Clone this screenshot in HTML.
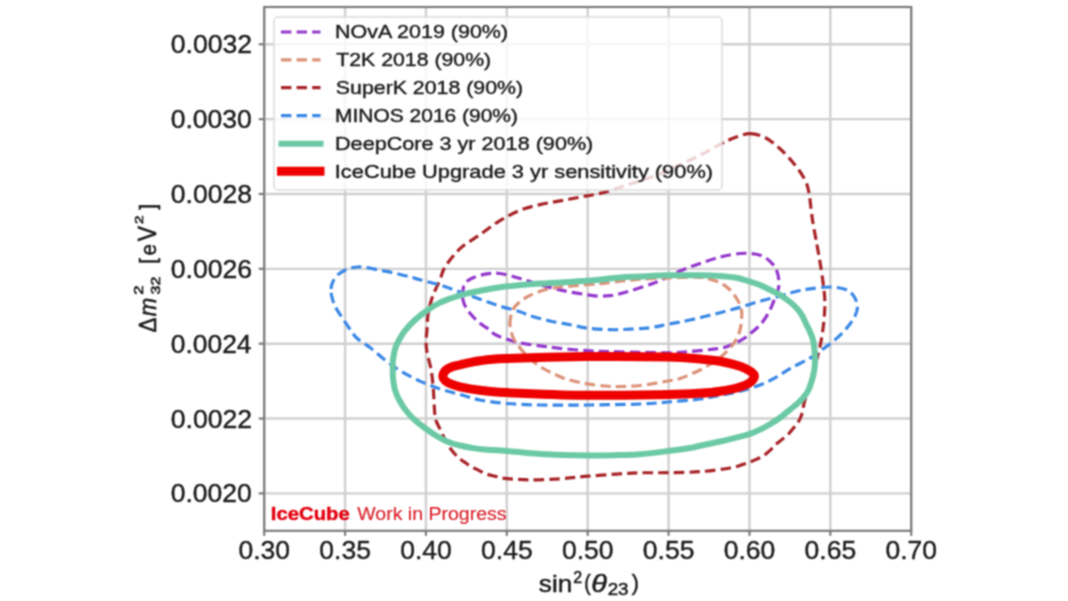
<!DOCTYPE html>
<html><head><meta charset="utf-8"><title>IceCube Upgrade sensitivity</title>
<style>
html,body{margin:0;padding:0;background:#fff;}
body{width:1068px;height:601px;overflow:hidden;}
svg{display:block;will-change:transform;}
text{font-family:"Liberation Sans",sans-serif;}
</style></head><body>
<svg width="1068" height="601" viewBox="0 0 1068 601">
<defs><filter id="bl" x="0" y="0" width="1068" height="601" filterUnits="userSpaceOnUse" color-interpolation-filters="sRGB"><feConvolveMatrix order="3" kernelMatrix="1 2 1 2 4 2 1 2 1" divisor="16" edgeMode="duplicate"/></filter></defs>
<g filter="url(#bl)">
<rect x="0" y="0" width="1068" height="601" fill="#fff"/>
<g stroke="#d0d0d0" stroke-width="2.4"><line x1="264.20" y1="7.0" x2="264.20" y2="530.8"/><line x1="345.07" y1="7.0" x2="345.07" y2="530.8"/><line x1="425.95" y1="7.0" x2="425.95" y2="530.8"/><line x1="506.82" y1="7.0" x2="506.82" y2="530.8"/><line x1="587.70" y1="7.0" x2="587.70" y2="530.8"/><line x1="668.58" y1="7.0" x2="668.58" y2="530.8"/><line x1="749.45" y1="7.0" x2="749.45" y2="530.8"/><line x1="830.33" y1="7.0" x2="830.33" y2="530.8"/><line x1="911.20" y1="7.0" x2="911.20" y2="530.8"/><line x1="264.2" y1="493.40" x2="911.2" y2="493.40"/><line x1="264.2" y1="418.54" x2="911.2" y2="418.54"/><line x1="264.2" y1="343.68" x2="911.2" y2="343.68"/><line x1="264.2" y1="268.83" x2="911.2" y2="268.83"/><line x1="264.2" y1="193.97" x2="911.2" y2="193.97"/><line x1="264.2" y1="119.11" x2="911.2" y2="119.11"/><line x1="264.2" y1="44.25" x2="911.2" y2="44.25"/></g>
<g fill="none" stroke-linejoin="round">
<path d="M462.5,296.0C462.3,293.8 462.6,292.1 463.0,290.0C463.4,287.9 463.5,285.2 465.0,283.3C466.5,281.4 468.7,279.8 472.0,278.3C475.3,276.8 480.3,275.0 485.0,274.2C489.7,273.4 494.2,272.8 500.0,273.5C505.8,274.2 513.3,276.6 520.0,278.5C526.7,280.4 534.2,283.0 540.0,284.7C545.8,286.4 550.0,287.5 555.0,288.7C560.0,289.9 564.6,291.0 570.0,292.0C575.4,293.0 582.6,294.1 587.6,294.8C592.6,295.5 596.3,296.1 600.0,296.2C603.7,296.3 606.7,296.1 610.0,295.7C613.3,295.3 616.7,294.5 620.0,293.7C623.3,292.9 625.0,292.5 630.0,291.0C635.0,289.5 645.0,286.2 650.0,284.5C655.0,282.8 655.0,282.9 660.0,280.6C665.0,278.4 673.3,273.9 680.0,271.0C686.7,268.1 693.3,265.8 700.0,263.5C706.7,261.2 713.3,258.7 720.0,257.0C726.7,255.3 734.2,254.0 740.0,253.5C745.8,253.0 750.8,253.3 755.0,254.0C759.2,254.7 762.0,255.8 765.0,257.5C768.0,259.2 770.9,261.9 773.0,264.5C775.1,267.1 776.5,269.6 777.5,273.0C778.5,276.4 779.2,281.3 779.0,285.0C778.8,288.7 777.3,292.4 776.5,295.0C775.7,297.6 775.1,298.0 774.0,300.5C772.9,303.0 771.7,306.8 770.0,310.0C768.3,313.2 766.0,317.2 764.0,320.0C762.0,322.8 760.2,324.8 758.0,327.0C755.8,329.2 753.2,331.2 751.0,333.0C748.8,334.8 747.2,336.3 745.0,337.8C742.8,339.3 740.3,340.8 738.0,342.0C735.7,343.2 733.5,344.0 731.0,345.0C728.5,346.0 726.5,347.1 723.0,347.8C719.5,348.6 715.5,348.9 710.0,349.5C704.5,350.1 697.0,350.9 690.0,351.5C683.0,352.1 676.3,352.7 668.0,352.8C659.7,352.9 649.7,352.5 640.0,352.3C630.3,352.1 618.8,351.9 610.0,351.6C601.2,351.3 595.8,351.2 587.5,350.7C579.2,350.2 567.9,349.2 560.0,348.4C552.1,347.6 546.7,346.7 540.0,345.8C533.3,344.9 525.3,344.1 520.0,343.0C514.7,341.9 512.2,340.9 508.0,339.5C503.8,338.1 498.0,336.1 495.0,334.5C492.0,332.9 492.5,331.9 490.0,330.0C487.5,328.1 483.3,326.1 480.0,323.3C476.7,320.5 472.7,316.6 470.0,313.3C467.3,310.0 465.2,306.2 464.0,303.3C462.8,300.4 462.7,298.2 462.5,296.0Z" stroke="#9438cc" stroke-width="3.2" stroke-dasharray="10.4 5.2"/>
<path d="M510.0,325.0C509.6,321.8 510.0,320.6 510.5,318.0C511.0,315.4 511.4,312.1 513.0,309.4C514.6,306.7 517.2,303.9 520.0,301.6C522.8,299.3 525.8,297.4 530.0,295.4C534.2,293.4 540.0,291.2 545.0,289.8C550.0,288.4 554.2,287.8 560.0,287.0C565.8,286.2 573.3,285.9 580.0,285.3C586.7,284.7 594.2,284.2 600.0,283.6C605.8,283.0 608.3,282.6 615.0,281.9C621.7,281.2 630.8,279.9 640.0,279.2C649.2,278.5 660.0,278.1 670.0,277.8C680.0,277.5 693.3,277.1 700.0,277.3C706.7,277.5 706.7,278.3 710.0,279.2C713.3,280.1 716.8,280.9 720.0,282.5C723.2,284.1 726.2,286.2 729.0,289.0C731.8,291.8 734.9,295.5 737.0,299.0C739.1,302.5 740.8,306.5 741.5,310.0C742.2,313.5 741.8,316.7 741.5,320.0C741.2,323.3 740.9,326.7 740.0,330.0C739.1,333.3 737.7,337.0 736.0,340.0C734.3,343.0 732.3,345.3 730.0,348.0C727.7,350.7 724.8,353.6 722.0,356.0C719.2,358.4 716.7,360.2 713.0,362.5C709.3,364.8 705.5,367.3 700.0,370.0C694.5,372.7 685.3,376.7 680.0,378.5C674.7,380.3 674.7,379.8 668.0,381.0C661.3,382.2 648.0,384.6 640.0,385.5C632.0,386.4 625.8,386.4 620.0,386.5C614.2,386.6 610.4,386.4 605.0,386.0C599.6,385.6 592.5,384.7 587.5,383.9C582.5,383.1 578.6,382.2 574.7,381.3C570.8,380.4 567.7,379.6 564.2,378.4C560.7,377.1 557.3,375.4 553.8,373.8C550.3,372.2 546.6,370.5 543.3,368.5C540.0,366.5 537.0,364.5 534.0,362.0C531.0,359.5 527.5,356.3 525.0,353.8C522.5,351.2 521.0,349.2 519.0,346.5C517.0,343.8 514.5,341.1 513.0,337.5C511.5,333.9 510.4,328.2 510.0,325.0Z" stroke="#dc9279" stroke-width="3.2" stroke-dasharray="10.4 5.2"/>
<path d="M750.0,133.6C755.0,133.6 760.0,135.0 765.0,137.5C770.0,140.0 775.0,144.2 780.0,148.8C785.0,153.3 790.8,159.8 795.0,165.0C799.2,170.2 802.7,175.3 805.0,180.0C807.3,184.7 807.8,186.3 809.0,193.0C810.2,199.7 811.2,211.3 812.5,220.0C813.8,228.7 815.8,238.0 817.0,245.0C818.2,252.0 819.0,255.8 820.0,262.0C821.0,268.2 822.2,275.7 823.0,282.0C823.8,288.3 824.6,293.7 824.8,300.0C825.0,306.3 824.6,313.3 824.0,320.0C823.4,326.7 822.5,333.3 821.3,340.0C820.1,346.7 818.4,353.3 816.6,360.0C814.9,366.7 812.8,373.1 810.8,380.0C808.8,386.9 805.9,396.3 804.6,401.2C803.3,406.1 803.5,406.8 802.9,409.3C802.3,411.8 801.9,414.2 801.1,416.3C800.3,418.4 799.5,420.2 798.2,422.1C797.0,424.0 795.4,425.8 793.6,427.9C791.9,430.0 789.7,432.9 787.7,434.9C785.8,436.8 783.8,438.1 781.9,439.6C780.0,441.2 778.0,442.4 776.1,444.2C774.2,445.9 772.4,448.2 770.3,450.1C768.2,452.1 765.6,454.3 763.3,455.9C761.0,457.4 758.6,458.3 756.3,459.4C754.0,460.5 751.6,461.4 749.3,462.3C747.0,463.2 745.5,463.7 742.3,464.6C739.1,465.6 737.0,466.8 730.0,468.0C723.0,469.2 710.3,470.9 700.0,471.7C689.7,472.5 678.0,472.5 668.0,472.7C658.0,472.9 648.0,472.6 640.0,472.8C632.0,473.0 628.7,473.2 620.0,473.8C611.3,474.4 598.0,475.4 588.0,476.2C578.0,477.0 569.7,478.2 560.0,478.8C550.3,479.4 538.8,479.8 530.0,479.8C521.2,479.8 512.1,479.0 507.0,478.6C501.9,478.2 501.7,477.9 499.3,477.4C496.9,476.9 495.2,476.3 492.8,475.7C490.4,475.1 487.6,474.5 485.2,473.6C482.8,472.7 481.0,471.5 478.7,470.3C476.4,469.1 473.5,467.9 471.1,466.5C468.8,465.1 466.7,463.6 464.6,462.2C462.5,460.8 460.7,459.7 458.7,457.9C456.7,456.1 454.5,453.6 452.7,451.4C450.9,449.2 449.3,447.2 447.9,444.9C446.4,442.6 445.2,440.0 444.0,437.5C442.8,435.0 441.9,432.9 440.5,430.0C439.1,427.1 436.8,423.3 435.8,420.0C434.8,416.7 434.9,415.0 434.5,410.0C434.1,405.0 433.9,396.7 433.4,390.0C432.8,383.3 432.2,375.9 431.2,370.0C430.2,364.1 428.4,359.2 427.5,354.6C426.6,350.0 426.1,346.8 426.0,342.6C425.9,338.4 426.7,334.0 427.0,329.3C427.3,324.6 427.3,319.3 428.0,314.6C428.7,309.9 429.8,305.3 431.0,301.3C432.2,297.3 433.5,294.2 435.0,290.7C436.5,287.1 438.3,283.9 440.0,280.0C441.7,276.1 441.7,272.2 445.0,267.0C448.3,261.8 454.2,254.1 460.0,248.7C465.8,243.3 473.3,239.3 480.0,234.6C486.7,229.9 493.3,224.6 500.0,220.6C506.7,216.6 513.3,213.0 520.0,210.3C526.7,207.6 533.3,206.2 540.0,204.6C546.7,203.0 553.3,202.1 560.0,200.9C566.7,199.7 573.3,198.4 580.0,197.2C586.7,195.9 593.3,195.0 600.0,193.4C606.7,191.8 613.3,189.5 620.0,187.4C626.7,185.3 633.3,182.9 640.0,180.7C646.7,178.4 653.3,176.6 660.0,173.9C666.7,171.2 673.3,167.8 680.0,164.7C686.7,161.6 693.3,158.8 700.0,155.4C706.7,152.0 714.2,147.4 720.0,144.4C725.8,141.4 730.0,139.3 735.0,137.5C740.0,135.7 745.0,133.6 750.0,133.6Z" stroke="#a82428" stroke-width="3.2" stroke-dasharray="10.4 5.2"/>
<path d="M331.0,289.0C331.2,286.7 331.8,283.8 333.0,281.4C334.2,279.0 336.0,276.6 338.0,274.7C340.0,272.8 342.7,271.3 345.0,270.2C347.3,269.1 349.8,268.3 352.0,267.8C354.2,267.3 355.8,267.1 358.0,267.0C360.2,266.9 361.3,266.9 365.0,267.4C368.7,267.9 375.0,269.2 380.0,270.2C385.0,271.2 390.0,272.1 395.0,273.2C400.0,274.3 405.8,275.8 410.0,276.9C414.2,278.0 415.0,278.4 420.0,279.8C425.0,281.2 433.3,283.0 440.0,285.0C446.7,287.0 453.3,289.6 460.0,292.0C466.7,294.4 473.3,296.8 480.0,299.2C486.7,301.6 493.3,304.1 500.0,306.2C506.7,308.3 515.0,310.1 520.0,311.7C525.0,313.3 525.0,314.1 530.0,315.7C535.0,317.2 543.3,319.5 550.0,321.0C556.7,322.5 563.7,323.5 570.0,324.7C576.3,325.9 581.0,327.4 587.7,328.2C594.4,329.0 603.0,329.5 610.0,329.7C617.0,329.9 623.3,329.5 630.0,329.2C636.7,328.9 643.7,328.5 650.0,327.7C656.3,326.9 661.3,325.5 668.0,324.2C674.7,322.9 681.3,321.9 690.0,320.0C698.7,318.1 711.7,314.8 720.0,312.7C728.3,310.6 733.3,309.3 740.0,307.4C746.7,305.5 753.3,303.1 760.0,301.2C766.7,299.4 774.2,297.6 780.0,296.0C785.8,294.4 790.0,292.9 795.0,291.7C800.0,290.5 804.2,289.7 810.0,288.9C815.8,288.1 824.2,286.9 830.0,287.0C835.8,287.1 841.2,288.0 845.0,289.3C848.8,290.6 850.9,292.3 853.0,295.0C855.1,297.7 857.2,302.1 857.5,305.6C857.8,309.1 856.6,312.6 855.0,316.1C853.4,319.6 850.8,323.1 848.0,326.6C845.2,330.1 841.8,333.6 838.0,337.1C834.2,340.6 829.7,344.1 825.0,347.6C820.3,351.1 815.8,354.6 810.0,358.1C804.2,361.6 795.8,365.3 790.0,368.6C784.2,371.9 780.0,375.2 775.0,377.9C770.0,380.6 765.8,382.8 760.0,385.0C754.2,387.2 746.7,389.4 740.0,391.2C733.3,392.9 726.7,394.2 720.0,395.5C713.3,396.8 708.7,397.9 700.0,399.0C691.3,400.1 678.0,401.2 668.0,402.0C658.0,402.8 653.3,403.5 640.0,404.0C626.7,404.5 604.7,404.8 588.0,405.0C571.3,405.2 553.5,405.2 540.0,405.0C526.5,404.8 517.0,404.3 507.0,403.5C497.0,402.7 487.8,401.5 480.0,400.0C472.2,398.5 466.7,396.3 460.0,394.5C453.3,392.7 446.7,391.2 440.0,389.0C433.3,386.8 426.7,384.2 420.0,381.1C413.3,378.0 405.8,374.1 400.0,370.6C394.2,367.1 390.0,363.9 385.0,360.0C380.0,356.1 374.7,351.1 370.0,347.5C365.3,343.9 360.3,341.3 357.0,338.3C353.7,335.3 352.2,332.3 350.0,329.3C347.8,326.3 346.0,323.4 344.0,320.4C342.0,317.4 339.7,314.1 338.0,311.4C336.3,308.6 335.1,306.6 334.0,303.9C332.9,301.2 332.0,297.5 331.5,295.0C331.0,292.5 330.8,291.3 331.0,289.0Z" stroke="#3a88e6" stroke-width="3.2" stroke-dasharray="10.4 5.2"/>
<path d="M392.8,370.0C392.8,366.7 392.6,363.5 393.0,360.0C393.4,356.5 394.0,352.5 395.0,349.2C396.0,345.9 397.3,343.1 399.0,340.0C400.7,336.9 402.3,333.9 405.0,330.6C407.7,327.3 411.5,323.2 415.0,320.0C418.5,316.8 421.8,314.2 426.0,311.3C430.2,308.4 434.3,305.3 440.0,302.6C445.7,299.9 453.3,297.3 460.0,295.3C466.7,293.3 473.3,292.2 480.0,290.8C486.7,289.4 490.0,288.4 500.0,287.2C510.0,286.0 525.4,284.7 540.0,283.6C554.6,282.5 574.3,281.8 587.6,280.8C600.9,279.8 611.3,278.1 620.0,277.4C628.7,276.7 632.0,277.0 640.0,276.6C648.0,276.2 658.0,275.5 668.0,275.3C678.0,275.1 691.3,275.2 700.0,275.3C708.7,275.4 714.2,275.6 720.0,276.0C725.8,276.4 730.0,276.6 735.0,277.5C740.0,278.4 745.8,280.3 750.0,281.6C754.2,282.9 756.7,283.7 760.0,285.1C763.3,286.5 766.7,288.2 770.0,289.8C773.3,291.4 776.7,293.0 780.0,295.0C783.3,297.0 787.2,299.8 790.0,302.0C792.8,304.2 795.0,306.2 797.0,308.4C799.0,310.6 800.5,312.9 802.0,315.4C803.5,317.9 804.7,320.9 806.0,323.6C807.3,326.3 808.8,329.0 810.0,331.7C811.2,334.4 812.2,336.8 813.0,339.8C813.8,342.9 814.2,346.6 814.5,350.0C814.8,353.4 815.0,356.7 815.0,360.0C815.0,363.3 814.8,366.7 814.3,370.0C813.8,373.3 813.0,376.7 812.0,380.0C811.0,383.3 810.0,387.0 808.5,390.0C807.0,393.0 804.8,395.8 803.0,398.0C801.2,400.2 799.7,401.6 797.5,403.5C795.3,405.4 792.9,407.2 790.0,409.6C787.1,412.0 783.3,415.3 780.0,417.7C776.7,420.1 773.3,422.2 770.0,424.2C766.7,426.2 763.3,428.0 760.0,429.6C756.7,431.2 753.3,432.7 750.0,433.9C746.7,435.1 745.0,435.3 740.0,436.6C735.0,437.9 726.7,440.0 720.0,441.5C713.3,443.0 705.0,444.7 700.0,445.8C695.0,446.9 695.3,447.1 690.0,448.0C684.7,448.9 676.3,450.1 668.0,451.1C659.7,452.1 648.0,453.6 640.0,454.2C632.0,454.9 628.7,454.8 620.0,455.0C611.3,455.2 601.3,455.6 588.0,455.4C574.7,455.2 553.5,454.6 540.0,453.9C526.5,453.1 516.3,451.6 507.0,450.9C497.7,450.1 489.7,449.9 484.1,449.4C478.5,448.9 476.9,448.7 473.3,448.1C469.7,447.5 466.1,446.8 462.5,446.0C458.9,445.2 455.2,444.6 451.6,443.3C448.0,442.0 444.8,440.6 440.8,438.4C436.8,436.2 431.9,433.1 427.6,430.0C423.3,426.9 418.5,423.3 414.8,420.0C411.1,416.7 408.2,413.3 405.6,410.0C403.0,406.7 401.0,403.3 399.2,400.0C397.4,396.7 396.0,393.3 395.0,390.0C394.0,386.7 393.6,383.3 393.2,380.0C392.8,376.7 392.8,373.3 392.8,370.0Z" stroke="#6cc9a5" stroke-width="6"/>
<path d="M442.8,376.0C443.0,374.2 444.5,371.5 446.0,370.0C447.5,368.5 449.7,367.7 452.0,366.8C454.3,365.9 455.3,365.8 460.0,364.8C464.7,363.7 472.3,361.8 480.0,360.8C487.7,359.7 488.2,359.3 506.0,358.6C523.8,357.9 560.0,356.9 587.0,356.6C614.0,356.3 649.2,356.6 668.0,357.0C686.8,357.4 691.3,358.3 700.0,359.0C708.7,359.7 713.3,360.0 720.0,361.2C726.7,362.5 735.0,364.6 740.0,366.2C745.0,367.9 747.6,369.4 750.0,371.0C752.4,372.6 754.4,374.1 754.4,376.0C754.4,377.9 752.4,380.7 750.0,382.5C747.6,384.3 745.0,385.5 740.0,387.0C735.0,388.5 726.7,390.2 720.0,391.2C713.3,392.3 708.7,392.7 700.0,393.2C691.3,393.8 686.8,394.2 668.0,394.5C649.2,394.8 614.0,395.6 587.0,395.3C560.0,395.0 523.8,393.4 506.0,392.6C488.2,391.8 487.7,391.2 480.0,390.2C472.3,389.3 465.0,387.9 460.0,386.8C455.0,385.6 452.5,384.5 450.0,383.5C447.5,382.5 446.2,381.8 445.0,380.5C443.8,379.2 442.6,377.8 442.8,376.0Z" stroke="#ee0000" stroke-width="9"/>
</g>
<rect x="274.0" y="17.0" width="448.0" height="173.0" rx="4" ry="4" fill="#fff" fill-opacity="0.8" stroke="#dcdcdc" stroke-width="1.5"/>
<line x1="281" y1="32.0" x2="320.5" y2="32.0" stroke="#9438cc" stroke-width="3.2" stroke-dasharray="10.4 5.2"/>
<text x="335.05" y="38.3" font-size="18.2" textLength="173.07" lengthAdjust="spacingAndGlyphs" fill="#1c1c1c" stroke="#1c1c1c" stroke-width="0.40">NOvA 2019 (90%)</text>
<line x1="281" y1="59.8" x2="320.5" y2="59.8" stroke="#dc9279" stroke-width="3.2" stroke-dasharray="10.4 5.2"/>
<text x="336.32" y="66.1" font-size="18.2" textLength="154.80" lengthAdjust="spacingAndGlyphs" fill="#1c1c1c" stroke="#1c1c1c" stroke-width="0.40">T2K 2018 (90%)</text>
<line x1="281" y1="87.7" x2="320.5" y2="87.7" stroke="#a82428" stroke-width="3.2" stroke-dasharray="10.4 5.2"/>
<text x="335.83" y="94.0" font-size="18.2" textLength="187.29" lengthAdjust="spacingAndGlyphs" fill="#1c1c1c" stroke="#1c1c1c" stroke-width="0.40">SuperK 2018 (90%)</text>
<line x1="281" y1="115.6" x2="320.5" y2="115.6" stroke="#3a88e6" stroke-width="3.2" stroke-dasharray="10.4 5.2"/>
<text x="335.08" y="121.9" font-size="18.2" textLength="182.92" lengthAdjust="spacingAndGlyphs" fill="#1c1c1c" stroke="#1c1c1c" stroke-width="0.40">MINOS 2016 (90%)</text>
<line x1="281.5" y1="143.7" x2="320.5" y2="143.7" stroke="#6cc9a5" stroke-width="6" stroke-linecap="square"/>
<text x="335.03" y="150.0" font-size="18.2" textLength="258.31" lengthAdjust="spacingAndGlyphs" fill="#1c1c1c" stroke="#1c1c1c" stroke-width="0.40">DeepCore 3 yr 2018 (90%)</text>
<line x1="281.5" y1="171.3" x2="320" y2="171.3" stroke="#ee0000" stroke-width="9" stroke-linecap="square"/>
<text x="334.79" y="177.6" font-size="18.2" textLength="378.27" lengthAdjust="spacingAndGlyphs" fill="#1c1c1c" stroke="#1c1c1c" stroke-width="0.40">IceCube Upgrade 3 yr sensitivity (90%)</text>
<rect x="264.2" y="7.0" width="647.0" height="523.8" fill="none" stroke="#7c7c7c" stroke-width="2.2"/>
<g stroke="#7c7c7c" stroke-width="2.2"><line x1="264.20" y1="530.8" x2="264.20" y2="535.8"/><line x1="345.07" y1="530.8" x2="345.07" y2="535.8"/><line x1="425.95" y1="530.8" x2="425.95" y2="535.8"/><line x1="506.82" y1="530.8" x2="506.82" y2="535.8"/><line x1="587.70" y1="530.8" x2="587.70" y2="535.8"/><line x1="668.58" y1="530.8" x2="668.58" y2="535.8"/><line x1="749.45" y1="530.8" x2="749.45" y2="535.8"/><line x1="830.33" y1="530.8" x2="830.33" y2="535.8"/><line x1="911.20" y1="530.8" x2="911.20" y2="535.8"/><line x1="258.7" y1="493.40" x2="264.2" y2="493.40"/><line x1="258.7" y1="418.54" x2="264.2" y2="418.54"/><line x1="258.7" y1="343.68" x2="264.2" y2="343.68"/><line x1="258.7" y1="268.83" x2="264.2" y2="268.83"/><line x1="258.7" y1="193.97" x2="264.2" y2="193.97"/><line x1="258.7" y1="119.11" x2="264.2" y2="119.11"/><line x1="258.7" y1="44.25" x2="264.2" y2="44.25"/></g>
<g font-size="25.4" fill="#1c1c1c" stroke="#1c1c1c" stroke-width="0.40"><text x="238.41" y="559.4" textLength="51.57" lengthAdjust="spacingAndGlyphs">0.30</text><text x="319.29" y="559.4" textLength="51.65" lengthAdjust="spacingAndGlyphs">0.35</text><text x="400.16" y="559.4" textLength="51.57" lengthAdjust="spacingAndGlyphs">0.40</text><text x="481.04" y="559.4" textLength="51.65" lengthAdjust="spacingAndGlyphs">0.45</text><text x="561.91" y="559.4" textLength="51.57" lengthAdjust="spacingAndGlyphs">0.50</text><text x="642.79" y="559.4" textLength="51.65" lengthAdjust="spacingAndGlyphs">0.55</text><text x="723.66" y="559.4" textLength="51.57" lengthAdjust="spacingAndGlyphs">0.60</text><text x="804.54" y="559.4" textLength="51.65" lengthAdjust="spacingAndGlyphs">0.65</text><text x="885.41" y="559.4" textLength="51.57" lengthAdjust="spacingAndGlyphs">0.70</text><text x="170.76" y="502.40" textLength="81.07" lengthAdjust="spacingAndGlyphs">0.0020</text><text x="170.76" y="427.54" textLength="81.38" lengthAdjust="spacingAndGlyphs">0.0022</text><text x="170.77" y="352.68" textLength="80.81" lengthAdjust="spacingAndGlyphs">0.0024</text><text x="170.76" y="277.83" textLength="81.20" lengthAdjust="spacingAndGlyphs">0.0026</text><text x="170.76" y="202.97" textLength="81.19" lengthAdjust="spacingAndGlyphs">0.0028</text><text x="170.76" y="128.11" textLength="81.07" lengthAdjust="spacingAndGlyphs">0.0030</text><text x="170.76" y="53.25" textLength="81.38" lengthAdjust="spacingAndGlyphs">0.0032</text></g>
<g fill="#1c1c1c" stroke="#1c1c1c" stroke-width="0.5"><text x="538.87" y="592.36" font-size="24.65" textLength="33.32" lengthAdjust="spacingAndGlyphs">sin</text><text x="573.29" y="583.00" font-size="16.90" textLength="8.91" lengthAdjust="spacingAndGlyphs">2</text><text x="584.31" y="590.47" font-size="21.90" textLength="6.41" lengthAdjust="spacingAndGlyphs">(</text><text x="591.28" y="591.77" font-size="23.69" textLength="15.57" lengthAdjust="spacingAndGlyphs" font-style="italic">θ</text><text x="607.66" y="595.24" font-size="16.81" textLength="20.87" lengthAdjust="spacingAndGlyphs">23</text><text x="631.67" y="590.47" font-size="21.90" textLength="7.16" lengthAdjust="spacingAndGlyphs">)</text></g>
<g fill="#1c1c1c" stroke="#1c1c1c" stroke-width="0.6"><text transform="translate(0,332) rotate(-90)" x="-0.47" y="156.20" font-size="23.84" textLength="14.94" lengthAdjust="spacingAndGlyphs">Δ</text><text transform="translate(0,332) rotate(-90)" x="15.83" y="156.20" font-size="24.18" textLength="18.39" lengthAdjust="spacingAndGlyphs" font-style="italic">m</text><text transform="translate(0,332) rotate(-90)" x="37.36" y="142.80" font-size="12.89" textLength="9.28" lengthAdjust="spacingAndGlyphs">2</text><text transform="translate(0,332) rotate(-90)" x="37.59" y="160.07" font-size="13.70" textLength="17.71" lengthAdjust="spacingAndGlyphs">32</text><text transform="translate(0,332) rotate(-90)" x="68.23" y="155.09" font-size="22.21" textLength="5.73" lengthAdjust="spacingAndGlyphs">[</text><text transform="translate(0,332) rotate(-90)" x="76.62" y="156.29" font-size="21.90" textLength="11.50" lengthAdjust="spacingAndGlyphs">e</text><text transform="translate(0,332) rotate(-90)" x="90.70" y="156.20" font-size="25.73" textLength="15.20" lengthAdjust="spacingAndGlyphs">V</text><text transform="translate(0,332) rotate(-90)" x="108.03" y="142.80" font-size="10.88" textLength="8.55" lengthAdjust="spacingAndGlyphs">2</text><text transform="translate(0,332) rotate(-90)" x="122.33" y="154.87" font-size="22.31" textLength="5.87" lengthAdjust="spacingAndGlyphs">]</text></g>
<g fill="#e4000f" stroke="#e4000f" stroke-width="0.40"><text x="270.84" y="520.10" font-size="18.0" textLength="78.95" lengthAdjust="spacingAndGlyphs" font-weight="bold">IceCube</text></g>
<g fill="#da1f28" stroke="#da1f28" stroke-width="0.15"><text x="357.31" y="520.10" font-size="18.0" textLength="149.19" lengthAdjust="spacingAndGlyphs">Work in Progress</text></g>
</g>
</svg>
</body></html>
